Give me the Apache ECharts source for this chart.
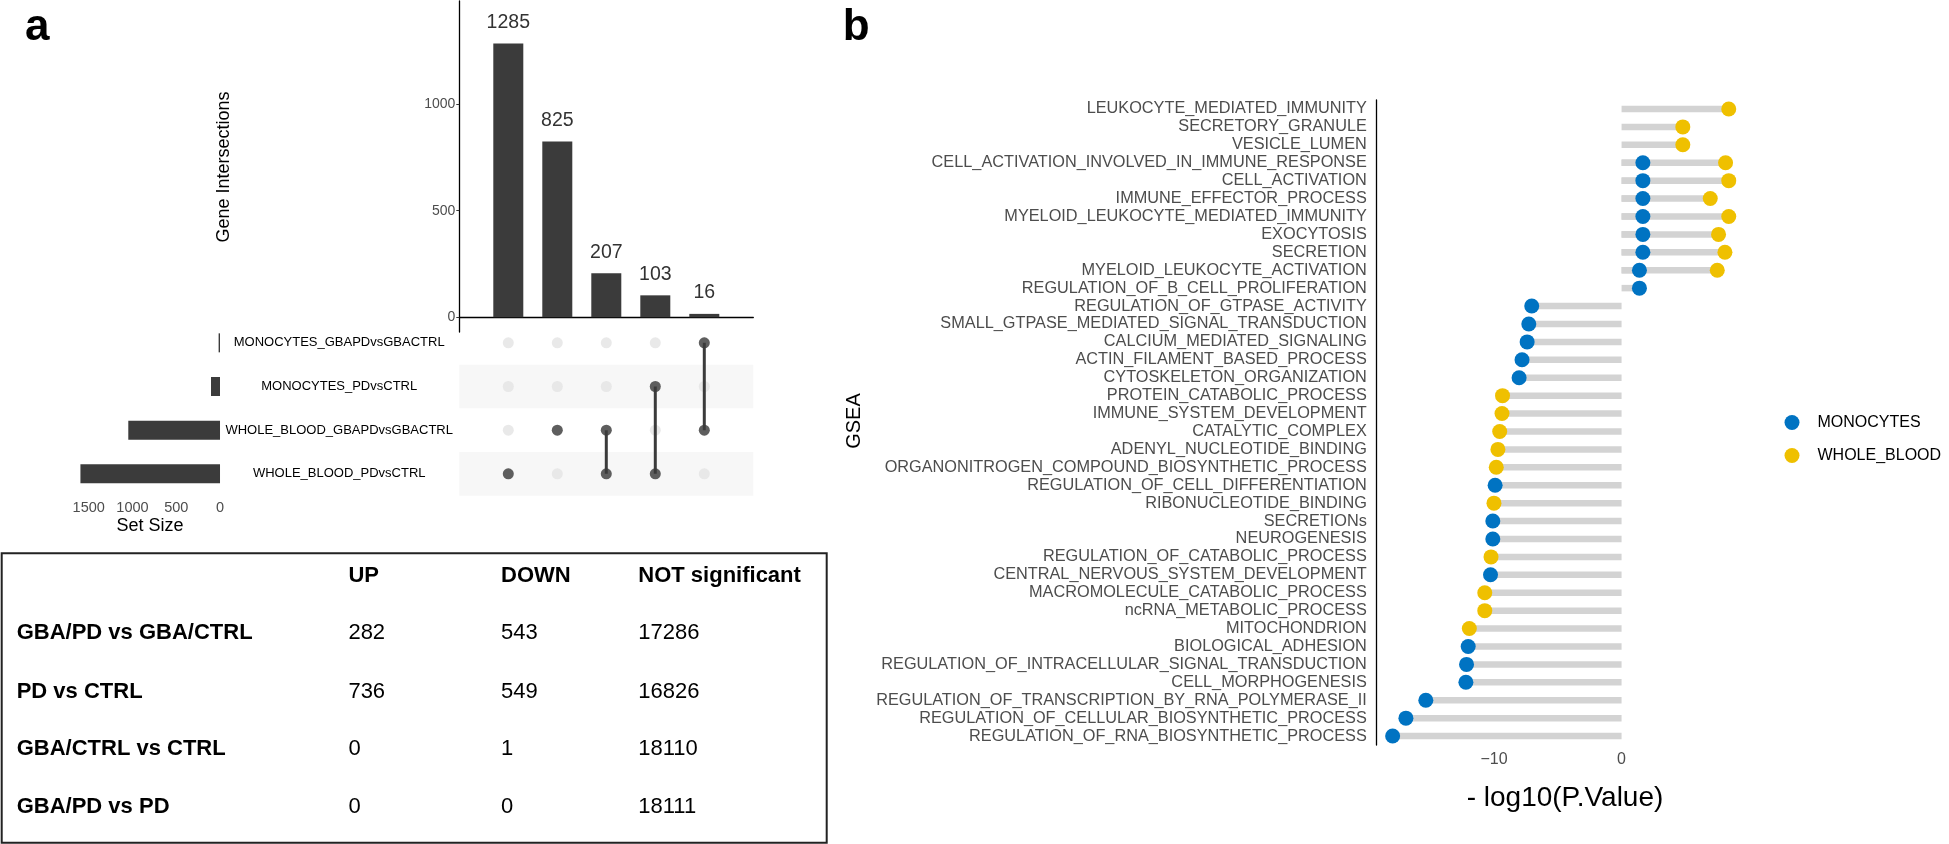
<!DOCTYPE html>
<html>
<head>
<meta charset="utf-8">
<script src="https://cdn.jsdelivr.net/npm/echarts@6/dist/echarts.min.js"></script>
<style>html,body{margin:0;padding:0;background:#fff;}#c{width:1949px;height:844px;}</style>
</head>
<body>
<div id="c"></div>
<script>
// ---------- DATA ----------
const intersectionSizes = [1285, 825, 207, 103, 16];
const setNames = ['MONOCYTES_GBAPDvsGBACTRL', 'MONOCYTES_PDvsCTRL', 'WHOLE_BLOOD_GBAPDvsGBACTRL', 'WHOLE_BLOOD_PDvsCTRL'];
const setSizes = [16, 103, 1048, 1595];
// members of each intersection (indices into setNames)
const intersectionMembers = [[3], [2], [2, 3], [1, 3], [0, 2]];
const intersectionTicks = [0, 500, 1000];
const setSizeTicks = [0, 500, 1000, 1500];

const tableHeader = ['UP', 'DOWN', 'NOT significant'];
const tableRows = ['GBA/PD vs GBA/CTRL', 'PD vs CTRL', 'GBA/CTRL vs CTRL', 'GBA/PD vs PD'];
const upCounts = [282, 736, 0, 0];
const downCounts = [543, 549, 1, 0];
const notSigCounts = [17286, 16826, 18110, 18111];

const gseaTerms = [
  'LEUKOCYTE_MEDIATED_IMMUNITY', 'SECRETORY_GRANULE', 'VESICLE_LUMEN',
  'CELL_ACTIVATION_INVOLVED_IN_IMMUNE_RESPONSE', 'CELL_ACTIVATION', 'IMMUNE_EFFECTOR_PROCESS',
  'MYELOID_LEUKOCYTE_MEDIATED_IMMUNITY', 'EXOCYTOSIS', 'SECRETION', 'MYELOID_LEUKOCYTE_ACTIVATION',
  'REGULATION_OF_B_CELL_PROLIFERATION', 'REGULATION_OF_GTPASE_ACTIVITY',
  'SMALL_GTPASE_MEDIATED_SIGNAL_TRANSDUCTION', 'CALCIUM_MEDIATED_SIGNALING', 'ACTIN_FILAMENT_BASED_PROCESS',
  'CYTOSKELETON_ORGANIZATION', 'PROTEIN_CATABOLIC_PROCESS', 'IMMUNE_SYSTEM_DEVELOPMENT', 'CATALYTIC_COMPLEX',
  'ADENYL_NUCLEOTIDE_BINDING', 'ORGANONITROGEN_COMPOUND_BIOSYNTHETIC_PROCESS', 'REGULATION_OF_CELL_DIFFERENTIATION',
  'RIBONUCLEOTIDE_BINDING', 'SECRETIONs', 'NEUROGENESIS', 'REGULATION_OF_CATABOLIC_PROCESS',
  'CENTRAL_NERVOUS_SYSTEM_DEVELOPMENT', 'MACROMOLECULE_CATABOLIC_PROCESS', 'ncRNA_METABOLIC_PROCESS',
  'MITOCHONDRION', 'BIOLOGICAL_ADHESION', 'REGULATION_OF_INTRACELLULAR_SIGNAL_TRANSDUCTION',
  'CELL_MORPHOGENESIS', 'REGULATION_OF_TRANSCRIPTION_BY_RNA_POLYMERASE_II',
  'REGULATION_OF_CELLULAR_BIOSYNTHETIC_PROCESS', 'REGULATION_OF_RNA_BIOSYNTHETIC_PROCESS'
];
const monocytesVals = [
  null, null, null, 1.67, 1.67, 1.67, 1.67, 1.67, 1.67, 1.4,
  1.4, -7.04, -7.27, -7.4, -7.8, -8.03, null, null, null, null,
  null, -9.91, null, -10.09, -10.09, null, -10.27, null, null, null,
  -12.02, -12.15, -12.2, -15.34, -16.9, -17.94
];
const wholeBloodVals = [
  8.4, 4.8, 4.8, 8.15, 8.4, 6.95, 8.4, 7.6, 8.1, 7.5,
  null, null, null, null, null, null, -9.33, -9.37, -9.55, -9.69,
  -9.82, null, -10.0, null, null, -10.23, null, -10.72, -10.72, -11.93,
  null, null, null, null, null, null
];
const gseaTicks = [-10, 0];

// ---------- STYLE ----------
const FONT = '"Liberation Sans", Arial, Helvetica, sans-serif';
const DARK = '#3b3b3b';
const BLUE = '#0073C2';
const YELLOW = '#EFC000';

const chart = echarts.init(document.getElementById('c'), null, {renderer: 'canvas'});

const allDots = [];
for (let c = 0; c < intersectionSizes.length; c++) {
  for (let r = 0; r < setNames.length; r++) allDots.push([c + 1, r]);
}
const memberDots = [];
const lineSeries = [];
intersectionMembers.forEach((m, i) => {
  m.forEach(r => memberDots.push([i + 1, r]));
  if (m.length > 1) {
    lineSeries.push({
      type: 'line', xAxisIndex: 1, yAxisIndex: 1, symbol: 'none', silent: true,
      lineStyle: {color: DARK, width: 3}, z: 3,
      data: [[i + 1, Math.min(...m)], [i + 1, Math.max(...m)]]
    });
  }
});

const toPts = vals => vals.map((v, i) => v == null ? null : [v, i]).filter(d => d);
const toBar = vals => vals.map(v => v == null ? '-' : v);
const plain = v => String(v);

// table graphics
const tableGraphics = [];
tableGraphics.push({type: 'rect', shape: {x: 1.7, y: 553.3, width: 825, height: 289.4},
  style: {fill: 'none', stroke: '#222', lineWidth: 2}});
const colX = [348.4, 501.1, 638.3];
const headY = 576;
const rowY = [633.3, 691.7, 749.3, 806.7];
tableHeader.forEach((h, j) => tableGraphics.push({type: 'text', x: colX[j], y: headY,
  style: {text: h, font: 'bold 22px ' + FONT, fill: '#000', align: 'left', verticalAlign: 'middle'}}));
tableRows.forEach((r, i) => {
  tableGraphics.push({type: 'text', x: 16.7, y: rowY[i],
    style: {text: r, font: 'bold 22px ' + FONT, fill: '#000', align: 'left', verticalAlign: 'middle'}});
  [upCounts[i], downCounts[i], notSigCounts[i]].forEach((v, j) => tableGraphics.push({type: 'text', x: colX[j], y: rowY[i],
    style: {text: String(v), font: '22px ' + FONT, fill: '#000', align: 'left', verticalAlign: 'middle'}}));
});

const option = {
  animation: false,
  backgroundColor: '#fff',
  textStyle: {fontFamily: FONT},
  grid: [
    {left: 459.3, top: 1, width: 294, height: 331},
    {left: 459.3, top: 321, width: 294, height: 174.7},
    {left: 75, top: 321, width: 150.7, height: 174.7},
    {left: 1375.8, top: 100, width: 369.8, height: 645}
  ],
  xAxis: [
    {gridIndex: 0, type: 'value', min: 0, max: 6,
      axisLine: {onZero: true, lineStyle: {color: '#000', width: 1.3}},
      axisTick: {show: false}, axisLabel: {show: false}, splitLine: {show: false}},
    {gridIndex: 1, type: 'value', min: 0, max: 6, show: false, splitLine: {show: false}},
    {gridIndex: 2, type: 'value', inverse: true, min: -65, max: 1657,
      axisLine: {onZero: false, lineStyle: {color: '#000', width: 1.3}},
      axisTick: {customValues: setSizeTicks, length: 3, lineStyle: {color: '#333'}},
      axisLabel: {customValues: setSizeTicks, fontSize: 14.5, color: '#4d4d4d', margin: 5, formatter: plain},
      splitLine: {show: false}},
    {gridIndex: 3, type: 'value', min: -19.26, max: 9.72,
      axisLine: {onZero: false, lineStyle: {color: '#000', width: 1.3}},
      axisTick: {customValues: gseaTicks, length: 4, lineStyle: {color: '#333'}},
      axisLabel: {customValues: gseaTicks, fontSize: 16, color: '#4d4d4d', margin: 7,
        formatter: v => v < 0 ? '\u2212' + Math.abs(v) : String(v)},
      splitLine: {show: false}}
  ],
  yAxis: [
    {gridIndex: 0, type: 'value', min: -69, max: 1484,
      axisLine: {show: true, onZero: false, lineStyle: {color: '#000', width: 1.3}},
      axisTick: {show: true, customValues: intersectionTicks, length: 3, lineStyle: {color: '#333'}},
      axisLabel: {customValues: intersectionTicks, fontSize: 14, color: '#4d4d4d', margin: 4, formatter: plain},
      splitLine: {show: false}},
    {gridIndex: 1, type: 'category', data: setNames, inverse: true,
      axisLine: {show: false}, axisTick: {show: false}, axisLabel: {show: false},
      splitLine: {show: false},
      splitArea: {show: true, areaStyle: {color: ['rgba(255,255,255,0)', '#f7f7f7']}}},
    {gridIndex: 2, type: 'category', data: setNames, inverse: true, position: 'right',
      axisLine: {show: false, onZero: false}, axisTick: {show: false},
      axisLabel: {fontSize: 13, color: '#000', align: 'center', margin: 113.5, interval: 0}},
    {gridIndex: 3, type: 'category', data: gseaTerms, inverse: true,
      axisLine: {onZero: false, lineStyle: {color: '#000', width: 1.3}},
      axisTick: {alignWithLabel: true, length: 4, lineStyle: {color: '#333'}},
      axisLabel: {fontSize: 16.3, color: '#4d4d4d', margin: 9, interval: 0}}
  ],
  legend: {
    data: ['MONOCYTES', 'WHOLE_BLOOD'], orient: 'vertical', left: 1784.5, top: 414.5,
    itemWidth: 15, itemHeight: 15, itemGap: 17, icon: 'circle', padding: 0,
    textStyle: {fontSize: 16, color: '#000', padding: [0, 0, 0, 13], lineHeight: 16}
  },
  series: [
    {type: 'bar', name: 'intersections', xAxisIndex: 0, yAxisIndex: 0, barWidth: 30,
      itemStyle: {color: DARK},
      label: {show: true, position: 'top', distance: 11, fontSize: 19.5, color: '#333'},
      data: intersectionSizes.map((v, i) => [i + 1, v])},
    {type: 'scatter', name: 'matrixEmpty', xAxisIndex: 1, yAxisIndex: 1, symbolSize: 11, silent: true,
      itemStyle: {color: '#e3e3e3'}, data: allDots, z: 2},
    ...lineSeries,
    {type: 'scatter', name: 'matrixFilled', xAxisIndex: 1, yAxisIndex: 1, symbolSize: 11, silent: true,
      itemStyle: {color: DARK}, data: memberDots, z: 4},
    {type: 'bar', name: 'setSize', xAxisIndex: 2, yAxisIndex: 2, barWidth: 19,
      itemStyle: {color: DARK}, data: setSizes},
    {type: 'bar', name: 'segMono', xAxisIndex: 3, yAxisIndex: 3, barWidth: 6.5, barGap: '-100%',
      itemStyle: {color: '#d3d3d3'}, silent: true, data: toBar(monocytesVals), z: 1},
    {type: 'bar', name: 'segWB', xAxisIndex: 3, yAxisIndex: 3, barWidth: 6.5, barGap: '-100%',
      itemStyle: {color: '#d3d3d3'}, silent: true, data: toBar(wholeBloodVals), z: 1},
    {type: 'scatter', name: 'MONOCYTES', xAxisIndex: 3, yAxisIndex: 3, symbolSize: 15,
      itemStyle: {color: BLUE, opacity: 1}, data: toPts(monocytesVals), z: 5},
    {type: 'scatter', name: 'WHOLE_BLOOD', xAxisIndex: 3, yAxisIndex: 3, symbolSize: 15,
      itemStyle: {color: YELLOW, opacity: 1}, data: toPts(wholeBloodVals), z: 5}
  ],
  graphic: [
    {type: 'text', x: 25, y: 27.6, style: {text: 'a', font: 'bold 44px ' + FONT, fill: '#000', align: 'left', verticalAlign: 'middle'}},
    {type: 'text', x: 842.7, y: 27.6, style: {text: 'b', font: 'bold 44px ' + FONT, fill: '#000', align: 'left', verticalAlign: 'middle'}},
    {type: 'text', x: 224, y: 167, rotation: Math.PI / 2,
      style: {text: 'Gene Intersections', font: '18px ' + FONT, fill: '#000', align: 'center', verticalAlign: 'middle'}},
    {type: 'text', x: 150, y: 526, style: {text: 'Set Size', font: '18px ' + FONT, fill: '#000', align: 'center', verticalAlign: 'middle'}},
    {type: 'text', x: 854, y: 421, rotation: Math.PI / 2,
      style: {text: 'GSEA', font: '20px ' + FONT, fill: '#000', align: 'center', verticalAlign: 'middle'}},
    {type: 'text', x: 1565, y: 798, style: {text: '- log10(P.Value)', font: '28px ' + FONT, fill: '#000', align: 'center', verticalAlign: 'middle'}},
    ...tableGraphics
  ]
};
chart.setOption(option);
</script>
</body>
</html>
